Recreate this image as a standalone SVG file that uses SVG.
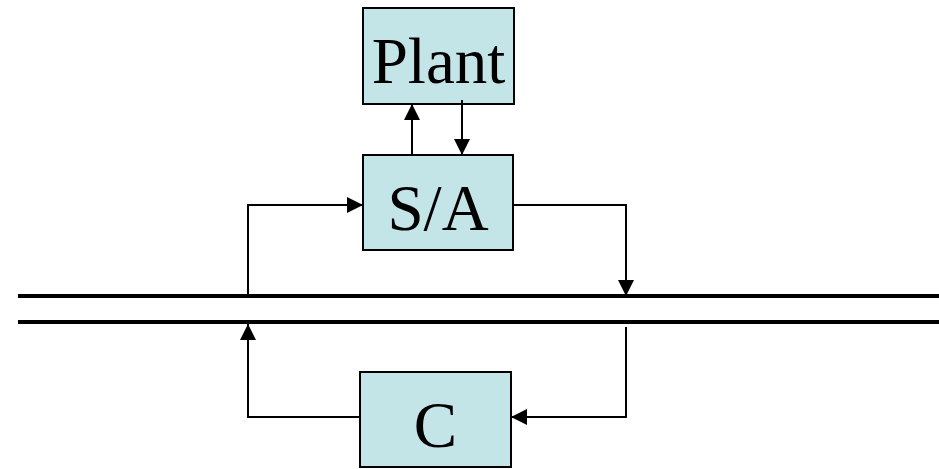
<svg xmlns="http://www.w3.org/2000/svg" width="939" height="469" viewBox="0 0 939 469">
  <style>
    .box { fill: #c4e5e8; stroke: #000; stroke-width: 2; }
    .lbl { font-family: "Liberation Serif", "Times New Roman", serif; font-size: 65px; fill: #000; text-anchor: middle; }
    .wire { fill: none; stroke: #000; stroke-width: 2; }
    .bus { stroke: #000; stroke-width: 4; }
  </style>
  <defs>
    <marker id="arrow" viewBox="0 0 10 10" refX="10" refY="5" markerWidth="16" markerHeight="16" markerUnits="userSpaceOnUse" orient="auto">
      <path d="M0,0 L10,5 L0,10 Z" fill="#000"/>
    </marker>
  </defs>

  <!-- bus lines -->
  <g id="bus">
    <line class="bus" x1="18" y1="296" x2="939" y2="296"/>
    <line class="bus" x1="18" y1="322" x2="939" y2="322"/>
  </g>

  <g id="plant">
    <rect class="box" x="363" y="8" width="151" height="96"/>
    <text class="lbl" x="438.5" y="83">Plant</text>
  </g>

  <g id="sa">
    <rect class="box" x="363" y="155" width="150" height="95"/>
    <text class="lbl" x="438" y="230">S/A</text>
  </g>

  <g id="c">
    <rect class="box" x="360" y="372" width="151" height="95"/>
    <text class="lbl" x="435.5" y="447">C</text>
  </g>

  <g id="connectors">
    <path class="wire" d="M412,155 L412,104" marker-end="url(#arrow)"/>
    <path class="wire" d="M462,100 L462,155" marker-end="url(#arrow)"/>
    <path class="wire" d="M248,296 L248,205 L363,205" marker-end="url(#arrow)"/>
    <path class="wire" d="M513,205 L626,205 L626,296" marker-end="url(#arrow)"/>
    <path class="wire" d="M360,417 L248,417 L248,324" marker-end="url(#arrow)"/>
    <path class="wire" d="M626,327 L626,417 L511,417" marker-end="url(#arrow)"/>
  </g>
</svg>
